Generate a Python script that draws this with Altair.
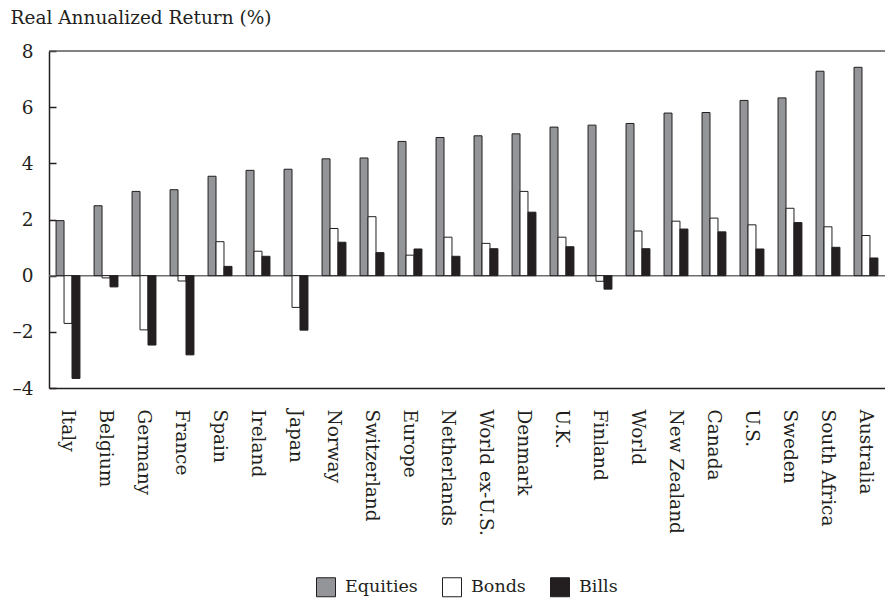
import altair as alt
import pandas as pd

countries = ["Italy", "Belgium", "Germany", "France", "Spain", "Ireland", "Japan",
             "Norway", "Switzerland", "Europe", "Netherlands", "World ex-U.S.",
             "Denmark", "U.K.", "Finland", "World", "New Zealand", "Canada",
             "U.S.", "Sweden", "South Africa", "Australia"]
equities = [1.96, 2.49, 3.00, 3.06, 3.54, 3.75, 3.79, 4.16, 4.19, 4.78, 4.92, 4.98,
            5.05, 5.29, 5.36, 5.42, 5.79, 5.81, 6.24, 6.33, 7.28, 7.42]
bonds = [-1.70, -0.08, -1.93, -0.19, 1.21, 0.87, -1.13, 1.68, 2.10, 0.73, 1.37, 1.15,
         3.00, 1.37, -0.20, 1.59, 1.94, 2.05, 1.81, 2.40, 1.74, 1.43]
bills = [-3.66, -0.40, -2.47, -2.82, 0.33, 0.69, -1.94, 1.19, 0.82, 0.95, 0.69, 0.96,
         2.26, 1.03, -0.48, 0.96, 1.66, 1.56, 0.95, 1.89, 1.01, 0.63]
series = ["Equities", "Bonds", "Bills"]
y_ticks = [-4, -2, 0, 2, 4, 6, 8]

rows = []
for i, c in enumerate(countries):
    for s, vals in zip(series, [equities, bonds, bills]):
        rows.append({"country": c, "series": s, "value": vals[i]})
df = pd.DataFrame(rows)

W, H = 836, 337
FONT = "DejaVu Serif"
INK = "#231f20"
yscale = alt.Scale(domain=[-4, 8], nice=False, zero=False)

bars = alt.Chart(df).mark_bar(stroke=INK, strokeWidth=1).encode(
    x=alt.X("country:N", sort=countries,
            scale=alt.Scale(paddingInner=0.371, paddingOuter=0.186),
            axis=alt.Axis(title=None, labelAngle=90, labelAlign="left",
                          labelBaseline="middle", labelPadding=21, ticks=False,
                          domainColor=INK, domainWidth=1.5, labelFont=FONT,
                          labelFontSize=18.5, labelColor=INK)),
    xOffset=alt.XOffset("series:N", sort=series,
                        scale=alt.Scale(paddingInner=0, paddingOuter=0)),
    y=alt.Y("value:Q", scale=yscale,
            axis=alt.Axis(values=y_ticks, ticks=False, grid=False, labelPadding=16,
                          labelExpr="datum.value < 0 ? '\u2013' + abs(datum.value) : datum.label",
                          domainColor=INK, domainWidth=1.5, labelFont=FONT,
                          labelFontSize=18.5, labelColor=INK,
                          title="Real Annualized Return (%)", titleAngle=0,
                          titleAlign="left", titleBaseline="alphabetic",
                          titleX=-39, titleY=-28, titleFont=FONT, titleFontSize=18.5,
                          titleFontWeight="normal", titleColor=INK)),
    color=alt.Color("series:N", sort=series,
                    scale=alt.Scale(domain=series, range=["#939598", "#ffffff", INK]),
                    legend=alt.Legend(title=None, orient="none", legendX=267, legendY=526,
                                      direction="horizontal", symbolType="square",
                                      symbolSize=361, symbolStrokeColor=INK,
                                      symbolStrokeWidth=1, labelFont=FONT,
                                      labelFontSize=17.5, labelColor=INK, labelOffset=9,
                                      columnPadding=22, padding=0)),
)

zero = alt.Chart(pd.DataFrame({"v": [0]})).mark_rule(color="#6d6e71", strokeWidth=1.5).encode(
    y=alt.Y("v:Q", scale=yscale,
            axis=alt.Axis(orient="right", offset=-W, values=y_ticks, labels=False,
                          domain=False, grid=False, ticks=True, tickSize=7,
                          tickColor=INK, tickWidth=1.5, title=None))
)

top = alt.Chart(pd.DataFrame({"v": [8]})).mark_rule(color="#58595b", strokeWidth=1.5).encode(
    y=alt.Y("v:Q", scale=yscale, axis=None),
    x=alt.value(0), x2=alt.value(W),
)

chart = alt.layer(zero, bars, top).resolve_axis(y="independent").properties(
    width=W, height=H,
    autosize=alt.AutoSizeParams(type="none"),
    padding={"left": 41, "top": 43, "right": 0, "bottom": 210},
).configure_view(stroke=None)

chart.save("out.html", embed_options={"renderer": "svg", "actions": False})
